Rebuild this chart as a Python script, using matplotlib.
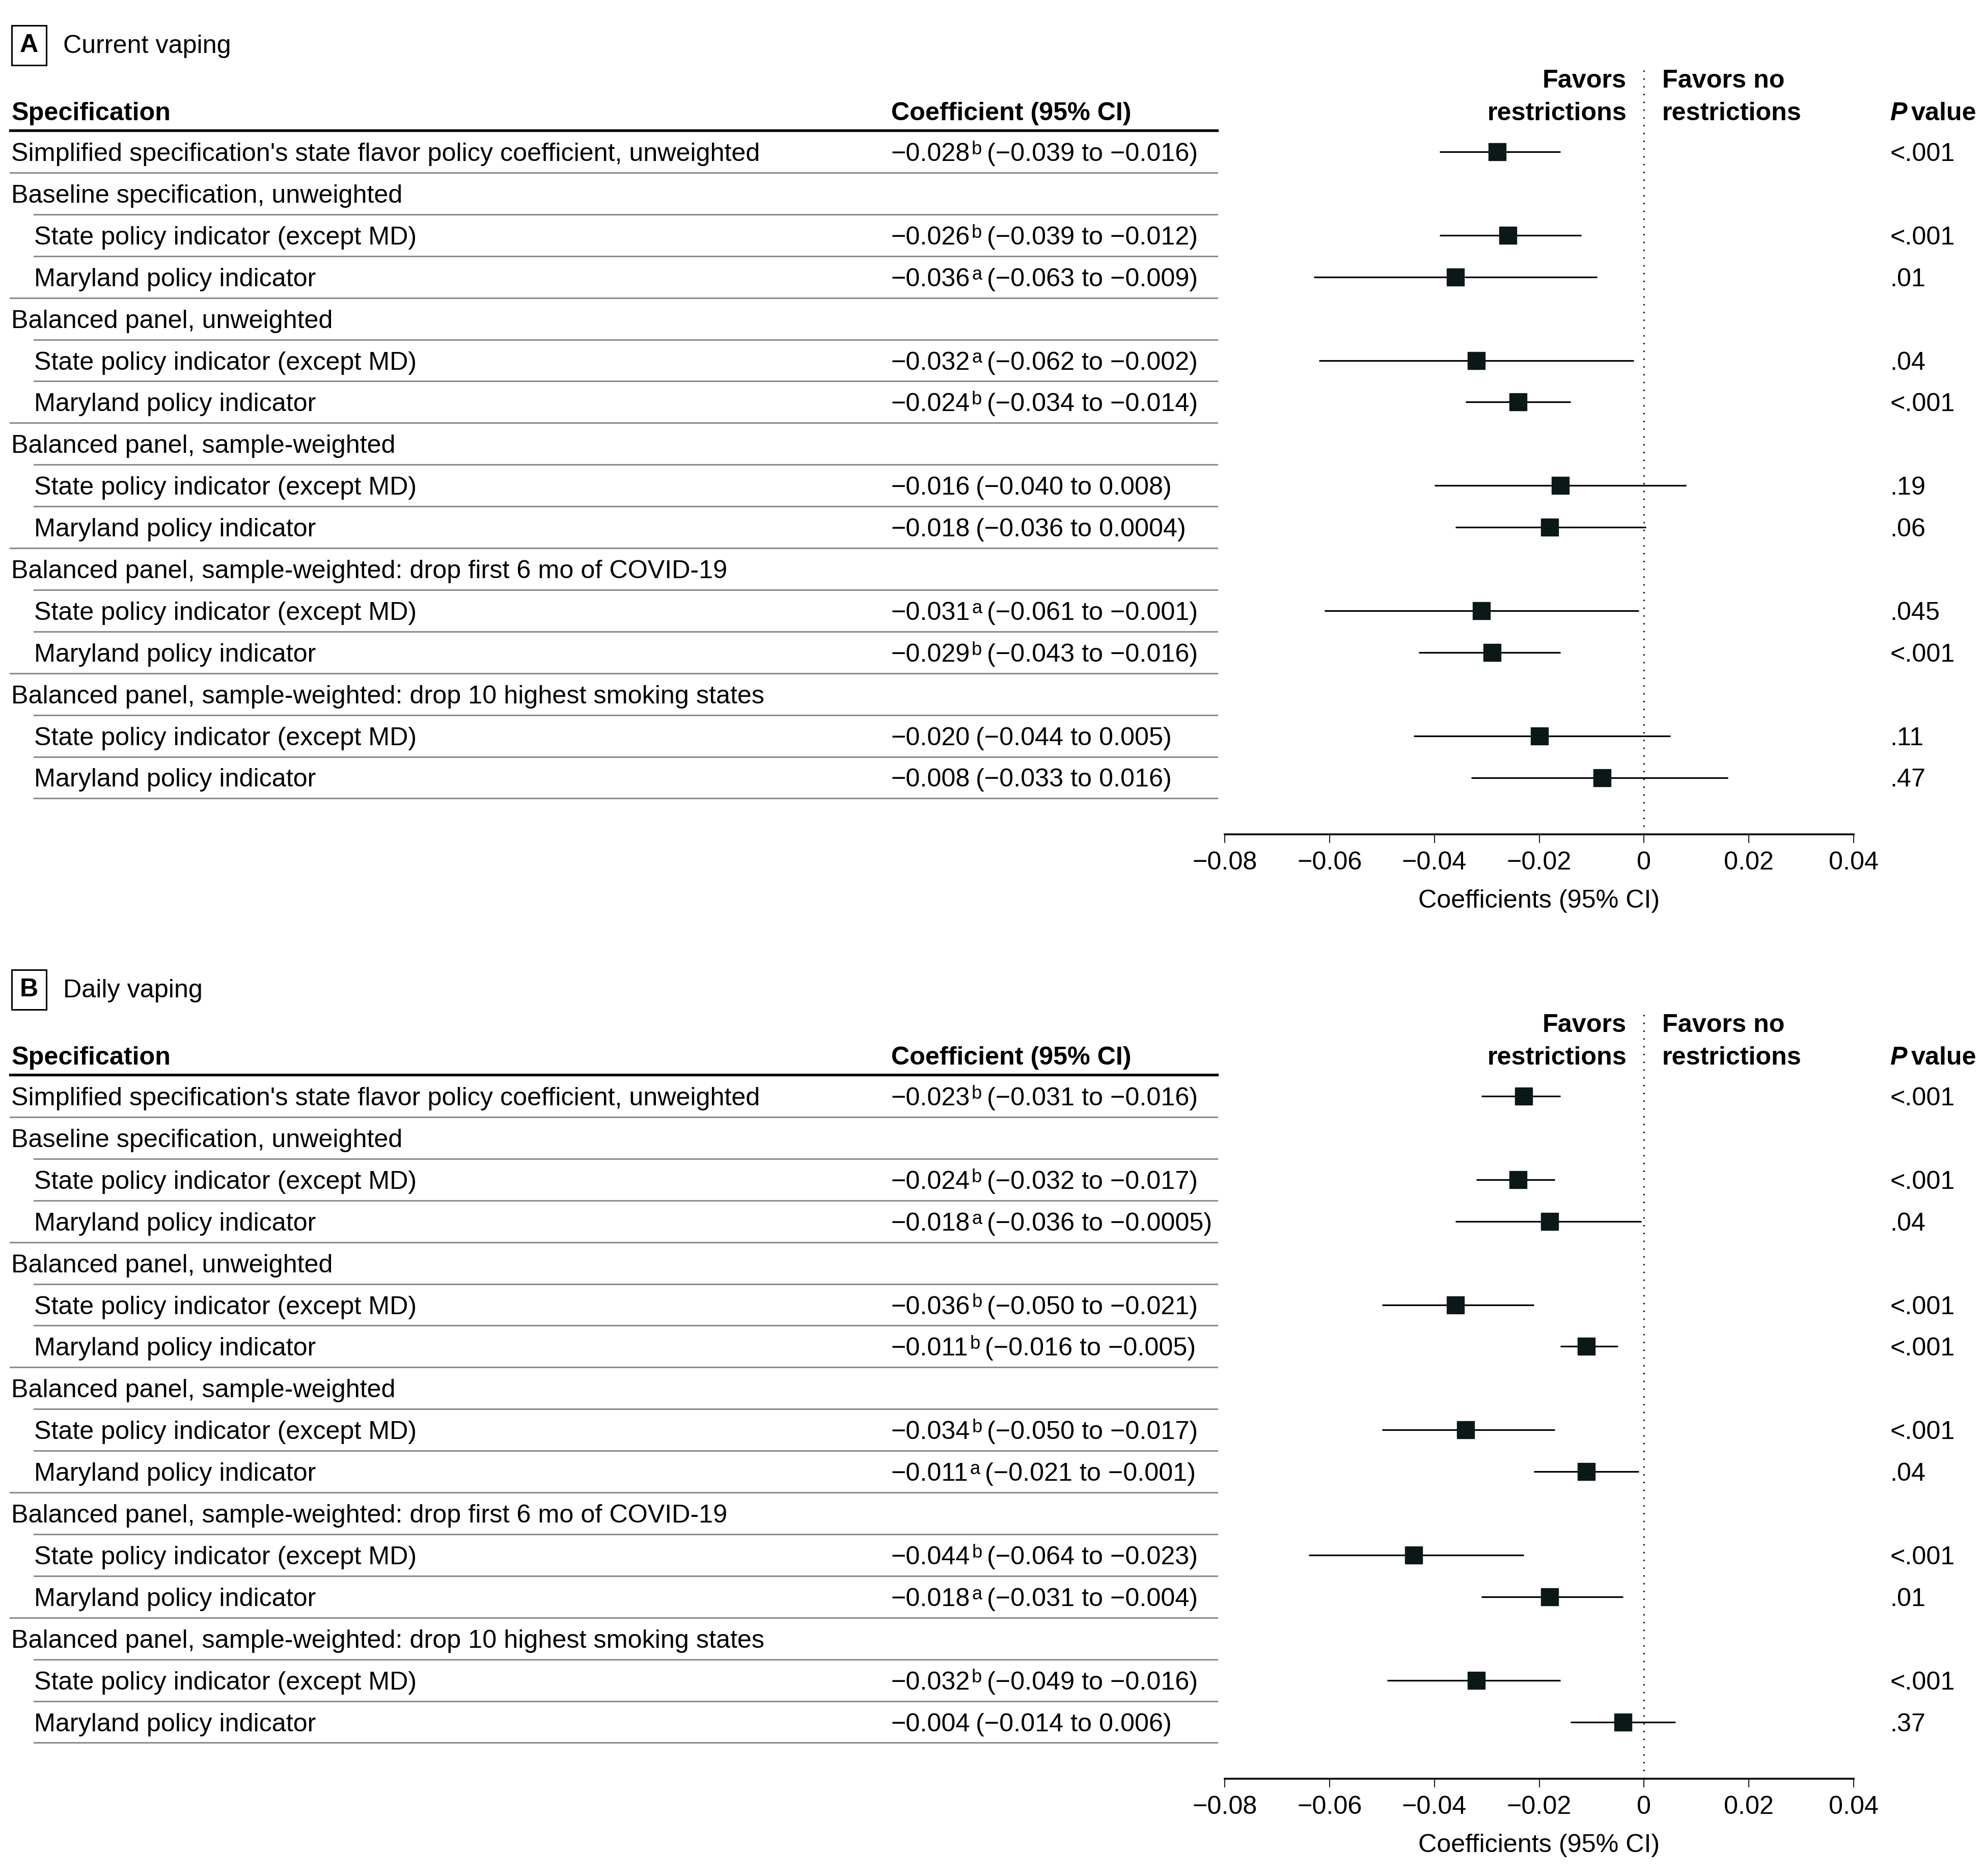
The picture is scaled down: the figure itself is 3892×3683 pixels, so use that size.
import matplotlib.pyplot as plt
import matplotlib.transforms as mtransforms
import numpy as np

plt.rcParams['font.family'] = ['Liberation Sans', 'DejaVu Sans']

W, H = 3892, 3683
FS = 36.2

# table rows (shared by both panels)
row_labels = [
    "Simplified specification's state flavor policy coefficient, unweighted",
    "Baseline specification, unweighted",
    "State policy indicator (except MD)",
    "Maryland policy indicator",
    "Balanced panel, unweighted",
    "State policy indicator (except MD)",
    "Maryland policy indicator",
    "Balanced panel, sample-weighted",
    "State policy indicator (except MD)",
    "Maryland policy indicator",
    "Balanced panel, sample-weighted: drop first 6 mo of COVID-19",
    "State policy indicator (except MD)",
    "Maryland policy indicator",
    "Balanced panel, sample-weighted: drop 10 highest smoking states",
    "State policy indicator (except MD)",
    "Maryland policy indicator",
]
row_indent = [0, 0, 1, 1, 0, 1, 1, 0, 1, 1, 0, 1, 1, 0, 1, 1]
est_rows = [0, 2, 3, 5, 6, 8, 9, 11, 12, 14, 15]

# A: current vaping
coef_a = [-0.028, -0.026, -0.036, -0.032, -0.024, -0.016, -0.018, -0.031, -0.029, -0.020, -0.008]
lo_a = [-0.039, -0.039, -0.063, -0.062, -0.034, -0.040, -0.036, -0.061, -0.043, -0.044, -0.033]
hi_a = [-0.016, -0.012, -0.009, -0.002, -0.014, 0.008, 0.0004, -0.001, -0.016, 0.005, 0.016]
sup_a = ['b', 'b', 'a', 'a', 'b', '', '', 'a', 'b', '', '']
p_a = ['<.001', '<.001', '.01', '.04', '<.001', '.19', '.06', '.045', '<.001', '.11', '.47']

# B: daily vaping
coef_b = [-0.023, -0.024, -0.018, -0.036, -0.011, -0.034, -0.011, -0.044, -0.018, -0.032, -0.004]
lo_b = [-0.031, -0.032, -0.036, -0.050, -0.016, -0.050, -0.021, -0.064, -0.031, -0.049, -0.014]
hi_b = [-0.016, -0.017, -0.0005, -0.021, -0.005, -0.017, -0.001, -0.023, -0.004, -0.016, 0.006]
sup_b = ['b', 'b', 'a', 'b', 'b', 'b', 'a', 'b', 'a', 'b', '']
p_b = ['<.001', '<.001', '.04', '<.001', '<.001', '<.001', '.04', '<.001', '.01', '<.001', '.37']

xticks = [-0.08, -0.06, -0.04, -0.02, 0, 0.02, 0.04]
xtick_labels = ['\u22120.08', '\u22120.06', '\u22120.04', '\u22120.02', '0', '0.02', '0.04']


def fmt(v):
    s = f"{abs(v):.4f}".rstrip('0')
    if len(s.split('.')[1]) < 3:
        s = f"{abs(v):.3f}"
    return ('\u2212' if v < 0 else '') + s


fig = plt.figure(figsize=(W / 100, H / 100), dpi=100)
xpix = mtransforms.Affine2D().scale(1 / W, 1 / H) + fig.transFigure

ROW0, STEP = 298, 81.9
TY = 5 / STEP   # small downward nudge so text sits like the original


def draw_panel(off, letter, title, coef, lo, hi, sup, pvals):
    ax = fig.add_axes([2405 / W, 1 - (off + 1638) / H, 1235 / W, 1512 / H])
    ax.set_xlim(-0.08, 0.04)
    ax.set_ylim((1638 - ROW0) / STEP, (126 - ROW0) / STEP)
    tr = mtransforms.blended_transform_factory(xpix, ax.transData)

    def yp(py):
        return (py - ROW0) / STEP

    # forest marks
    ax.axvline(0, color='black', lw=2.0, linestyle=(0, (1, 4.5)), zorder=1)
    ax.hlines(est_rows, lo, hi, color='black', lw=2.3, zorder=2)
    ax.plot(coef, est_rows, 's', color='#0a1818', markersize=24, zorder=3)

    for s in ['top', 'left', 'right']:
        ax.spines[s].set_visible(False)
    ax.spines['bottom'].set_linewidth(2.6)
    ax.set_yticks([])
    ax.set_xticks(xticks)
    ax.set_xticklabels(xtick_labels)
    ax.tick_params(axis='x', length=12, width=1.3, pad=12, labelsize=FS)
    ax.set_xlabel('Coefficients (95% CI)', fontsize=FS, labelpad=21)

    # title
    ax.text(57, yp(89), letter, transform=tr, fontsize=FS, fontweight='bold',
            ha='center', va='center',
            bbox=dict(boxstyle='square,pad=0.32', fc='white', ec='black', lw=2.2))
    ax.text(124, yp(91), title, transform=tr, fontsize=FS, ha='left', va='center')

    # headers
    hy = yp(223)
    y1 = yp(159)
    ax.text(22, hy, 'Specification', transform=tr, fontsize=FS, fontweight='bold', va='center')
    ax.text(1750, hy, 'Coefficient (95% CI)', transform=tr, fontsize=FS, fontweight='bold', va='center')
    ax.text(3194, y1, 'Favors', transform=tr, fontsize=FS, fontweight='bold', ha='right', va='center')
    ax.text(3194, hy, 'restrictions', transform=tr, fontsize=FS, fontweight='bold', ha='right', va='center')
    ax.text(3264, y1, 'Favors no', transform=tr, fontsize=FS, fontweight='bold', ha='left', va='center')
    ax.text(3264, hy, 'restrictions', transform=tr, fontsize=FS, fontweight='bold', ha='left', va='center')
    ptxt = ax.text(3711, hy, 'P', transform=tr, fontsize=FS, fontweight='bold', style='italic', va='center')
    ax.annotate('value', xy=(1, 0), xycoords=ptxt, xytext=(6, 0), textcoords='offset points',
                fontsize=FS, fontweight='bold', ha='left', va='bottom')

    ax.plot([20, 2390], [yp(256)] * 2, transform=tr, clip_on=False, color='black', lw=3.8)

    # row labels and separators
    for i, lab in enumerate(row_labels):
        ax.text(67 if row_indent[i] else 22, i + TY, lab, transform=tr, fontsize=FS, va='center')
        nxt_header = i + 1 < len(row_labels) and row_indent[i + 1] == 0
        x0 = 20 if nxt_header else 67
        ax.plot([x0, 2390], [i + 0.5] * 2, transform=tr, clip_on=False, color='#8c8c8c', lw=2.2)

    # coefficient column and p values
    for k, r in enumerate(est_rows):
        t = ax.text(1750, r + TY, fmt(coef[k]), transform=tr, fontsize=FS, va='center')
        rest = f"({fmt(lo[k])} to {fmt(hi[k])})"
        if sup[k]:
            st = ax.annotate(sup[k], xy=(1, 1), xycoords=t, xytext=(2, 3), textcoords='offset points',
                             fontsize=FS * 0.72, ha='left', va='top')
            ax.annotate(rest, xy=(1, 0), xycoords=(st, t), xytext=(7, 0), textcoords='offset points',
                        fontsize=FS, ha='left', va='bottom')
        else:
            ax.annotate(rest, xy=(1, 0), xycoords=t, xytext=(8, 0), textcoords='offset points',
                        fontsize=FS, ha='left', va='bottom')
        ax.text(3711, r + TY, pvals[k], transform=tr, fontsize=FS, va='center')
    return ax


draw_panel(0, 'A', 'Current vaping', coef_a, lo_a, hi_a, sup_a, p_a)
draw_panel(1854, 'B', 'Daily vaping', coef_b, lo_b, hi_b, sup_b, p_b)

fig.savefig('out.png', dpi=100)
